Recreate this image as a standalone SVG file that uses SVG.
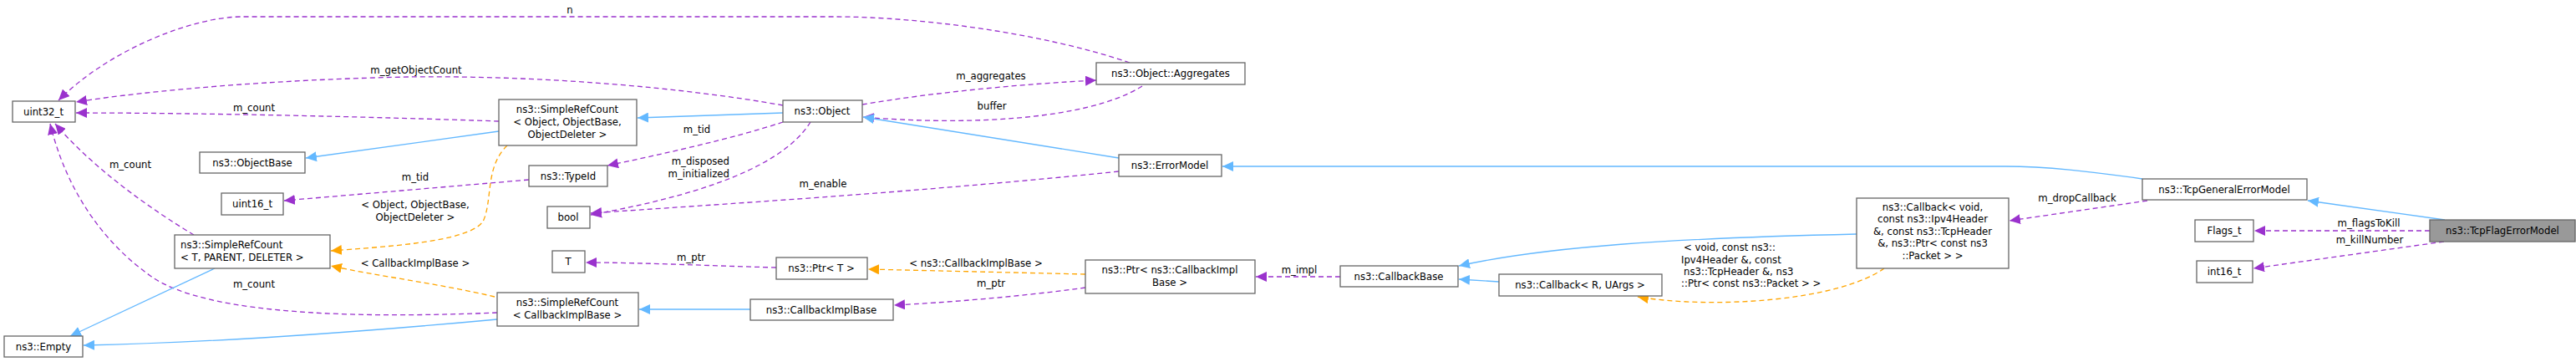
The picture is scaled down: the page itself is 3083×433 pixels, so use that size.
<svg xmlns="http://www.w3.org/2000/svg" width="3083" height="433" viewBox="0 0 3083 433">
<style>
text{font-family:"DejaVu Sans Condensed","DejaVu Sans",sans-serif;font-size:13px;fill:#000}
.n rect{fill:#fff;stroke:#666;stroke-width:1.3}
.n text{text-anchor:middle}
.e path{fill:none;stroke-width:1.3}
.p{stroke:#9a32cd;stroke-dasharray:6,4}
.o{stroke:#ffa500;stroke-dasharray:6,4}
.b{stroke:#63b8ff}
.l{text-anchor:middle}
</style>
<defs>
<marker id="mp" markerUnits="userSpaceOnUse" markerWidth="14" markerHeight="12" refX="13" refY="6" orient="auto"><path d="M0,0 L13,6 L0,12 Z" fill="#9a32cd"/></marker>
<marker id="mo" markerUnits="userSpaceOnUse" markerWidth="14" markerHeight="12" refX="13" refY="6" orient="auto"><path d="M0,0 L13,6 L0,12 Z" fill="#ffa500"/></marker>
<marker id="mb" markerUnits="userSpaceOnUse" markerWidth="14" markerHeight="12" refX="13" refY="6" orient="auto"><path d="M0,0 L13,6 L0,12 Z" fill="#63b8ff"/></marker>
</defs>
<g id="edges" class="e">
<path class="p" marker-end="url(#mp)" d="M1352,75 C1250,40 1100,20 1000,20 L290,20 C230,20 130,60 70,120"/>
<path class="p" marker-end="url(#mp)" d="M937,126 C820,105 650,90 490,92 C330,95 180,108 91,122"/>
<path class="p" marker-end="url(#mp)" d="M597,145 C450,140 250,135 91,135"/>
<path class="p" marker-end="url(#mp)" d="M232,281 C180,250 110,200 66,148"/>
<path class="p" marker-end="url(#mp)" d="M595,374 C450,380 250,380 180,330 C110,280 75,210 60,148"/>
<path class="b" marker-end="url(#mb)" d="M597,157 L366,189"/>
<path class="b" marker-end="url(#mb)" d="M257,321 L84,402"/>
<path class="b" marker-end="url(#mb)" d="M595,382 C400,400 250,410 100,413"/>
<path class="o" marker-end="url(#mo)" d="M607,174 C580,200 590,240 578,265 C560,290 460,295 396,300"/>
<path class="o" marker-end="url(#mo)" d="M592,355 C530,340 450,330 396,318"/>
<path class="b" marker-end="url(#mb)" d="M937,135 L763,141"/>
<path class="p" marker-end="url(#mp)" d="M937,146 C880,165 790,185 727,198"/>
<path class="p" marker-end="url(#mp)" d="M633,215 L340,240"/>
<path class="p" marker-end="url(#mp)" d="M970,146 C930,210 800,240 707,257"/>
<path class="p" marker-end="url(#mp)" d="M1339,205 C1100,230 850,245 707,255"/>
<path class="p" marker-end="url(#mp)" d="M1032,125 C1120,110 1230,100 1312,96"/>
<path class="p" marker-end="url(#mp)" d="M1367,103 C1300,145 1150,150 1033,140"/>
<path class="b" marker-end="url(#mb)" d="M1339,189 L1033,140"/>
<path class="b" marker-end="url(#mb)" d="M2564,214 C2500,205 2450,199 2400,199 L1463,199"/>
<path class="b" marker-end="url(#mb)" d="M2926,263 L2762,240"/>
<path class="p" marker-end="url(#mp)" d="M2908,276 L2698,276"/>
<path class="p" marker-end="url(#mp)" d="M2925,289 L2697,321"/>
<path class="p" marker-end="url(#mp)" d="M2570,240 L2405,264"/>
<path class="b" marker-end="url(#mb)" d="M2222,280 C2000,285 1850,295 1746,318"/>
<path class="b" marker-end="url(#mb)" d="M1794,337 L1746,334"/>
<path class="o" marker-end="url(#mo)" d="M2255,321 C2200,360 2050,370 1960,355"/>
<path class="p" marker-end="url(#mp)" d="M1604,331 L1503,331"/>
<path class="o" marker-end="url(#mo)" d="M1299,328 L1039,322"/>
<path class="p" marker-end="url(#mp)" d="M1299,344 C1220,355 1130,362 1070,365"/>
<path class="b" marker-end="url(#mb)" d="M898,370 L765,370"/>
<path class="p" marker-end="url(#mp)" d="M929,320 C850,318 770,314 701,314"/>
<text class="l" x="682" y="16">n</text>
<text class="l" x="498" y="88">m_getObjectCount</text>
<text class="l" x="304" y="133">m_count</text>
<text class="l" x="156" y="201">m_count</text>
<text class="l" x="304" y="344">m_count</text>
<text class="l" x="497" y="249">&lt; Object, ObjectBase,</text>
<text class="l" x="497" y="264">ObjectDeleter &gt;</text>
<text class="l" x="497" y="319">&lt; CallbackImplBase &gt;</text>
<text class="l" x="834" y="159">m_tid</text>
<text class="l" x="497" y="216">m_tid</text>
<text x="873" y="197" text-anchor="end">m_disposed</text>
<text x="873" y="212" text-anchor="end">m_initialized</text>
<text class="l" x="985" y="224">m_enable</text>
<text class="l" x="1186" y="95">m_aggregates</text>
<text class="l" x="1187" y="131">buffer</text>
<text class="l" x="2835" y="271">m_flagsToKill</text>
<text class="l" x="2836" y="291">m_killNumber</text>
<text class="l" x="2486" y="241">m_dropCallback</text>
<text x="2015" y="300">&lt; void, const ns3::</text>
<text x="2012" y="315">Ipv4Header &amp;, const</text>
<text x="2015" y="329"> ns3::TcpHeader &amp;, ns3</text>
<text x="2012" y="343">::Ptr&lt; const ns3::Packet &gt; &gt;</text>
<text class="l" x="1555" y="327">m_impl</text>
<text class="l" x="1168" y="319">&lt; ns3::CallbackImplBase &gt;</text>
<text class="l" x="1186" y="343">m_ptr</text>
<text class="l" x="827" y="312">m_ptr</text>
</g>
<g id="uint32" class="n"><rect x="15" y="121" width="75" height="25"/><text x="52" y="138">uint32_t</text></g>
<g id="empty" class="n"><rect x="5" y="402" width="94" height="25"/><text x="52" y="419">ns3::Empty</text></g>
<g id="objectbase" class="n"><rect x="239" y="182" width="126" height="25"/><text x="302" y="199">ns3::ObjectBase</text></g>
<g id="uint16" class="n"><rect x="265" y="231" width="74" height="26"/><text x="302" y="248">uint16_t</text></g>
<g id="srcT" class="n"><rect x="209" y="281" width="186" height="40"/><text x="216" y="297" style="text-anchor:start">ns3::SimpleRefCount</text><text x="216" y="312" style="text-anchor:start">&lt; T, PARENT, DELETER &gt;</text></g>
<g id="srcObj" class="n"><rect x="597" y="119" width="165" height="55"/><text x="679" y="135">ns3::SimpleRefCount</text><text x="679" y="150">&lt; Object, ObjectBase,</text><text x="679" y="165">ObjectDeleter &gt;</text></g>
<g id="typeid" class="n"><rect x="633" y="198" width="94" height="25"/><text x="680" y="215">ns3::TypeId</text></g>
<g id="bool" class="n"><rect x="655" y="247" width="51" height="26"/><text x="680" y="264">bool</text></g>
<g id="T" class="n"><rect x="661" y="300" width="39" height="26"/><text x="680" y="317">T</text></g>
<g id="srcCIB" class="n"><rect x="595" y="350" width="169" height="40"/><text x="679" y="366">ns3::SimpleRefCount</text><text x="679" y="381">&lt; CallbackImplBase &gt;</text></g>
<g id="object" class="n"><rect x="937" y="120" width="95" height="26"/><text x="984" y="137">ns3::Object</text></g>
<g id="aggregates" class="n"><rect x="1312" y="75" width="178" height="26"/><text x="1401" y="92">ns3::Object::Aggregates</text></g>
<g id="errormodel" class="n"><rect x="1339" y="185" width="123" height="26"/><text x="1400" y="202">ns3::ErrorModel</text></g>
<g id="ptrT" class="n"><rect x="929" y="308" width="109" height="26"/><text x="983" y="325">ns3::Ptr&lt; T &gt;</text></g>
<g id="cib" class="n"><rect x="898" y="358" width="171" height="25"/><text x="983" y="375">ns3::CallbackImplBase</text></g>
<g id="ptrCIB" class="n"><rect x="1299" y="311" width="203" height="40"/><text x="1400" y="327">ns3::Ptr&lt; ns3::CallbackImpl</text><text x="1400" y="342">Base &gt;</text></g>
<g id="cbbase" class="n"><rect x="1604" y="318" width="141" height="25"/><text x="1674" y="335">ns3::CallbackBase</text></g>
<g id="cbR" class="n"><rect x="1794" y="328" width="195" height="26"/><text x="1891" y="345">ns3::Callback&lt; R, UArgs &gt;</text></g>
<g id="cbvoid" class="n"><rect x="2222" y="237" width="182" height="84"/><text x="2313" y="252">ns3::Callback&lt; void,</text><text x="2313" y="266"> const ns3::Ipv4Header</text><text x="2313" y="281">&amp;, const ns3::TcpHeader</text><text x="2313" y="295">&amp;, ns3::Ptr&lt; const ns3</text><text x="2313" y="310">::Packet &gt; &gt;</text></g>
<g id="tcpgen" class="n"><rect x="2564" y="214" width="197" height="25"/><text x="2662" y="231">ns3::TcpGeneralErrorModel</text></g>
<g id="flags" class="n"><rect x="2627" y="263" width="70" height="26"/><text x="2662" y="280">Flags_t</text></g>
<g id="int16" class="n"><rect x="2629" y="312" width="67" height="26"/><text x="2662" y="329">int16_t</text></g>
<g id="tcpflag" class="n"><rect x="2908" y="263" width="174" height="26" style="fill:#999"/><text x="2995" y="280">ns3::TcpFlagErrorModel</text></g>
</svg>
